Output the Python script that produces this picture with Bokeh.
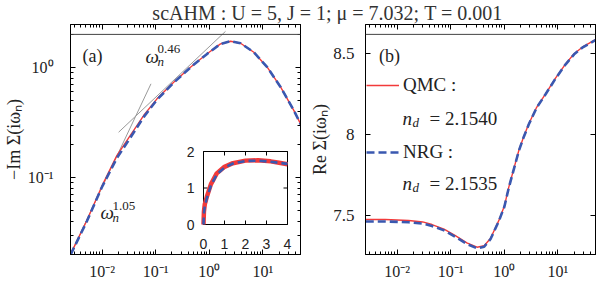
import numpy as np
from bokeh.plotting import figure
from bokeh.models import (Range1d, LogAxis, LinearAxis, FixedTicker, Span, Label,
                          Legend, LegendItem, LinearScale)
from bokeh.layouts import column, row
from bokeh.embed import file_html
from bokeh.resources import INLINE

# ---------------- data ----------------
title_text = "scAHM : U = 5, J = 1; μ = 7.032; T = 0.001"

# panel (a): -Im Sigma(i w_n), log-log
w_im = [0.00257, 0.00519, 0.00989, 0.0188, 0.0336, 0.0594, 0.1054, 0.216, 0.444,
        0.908, 1.614, 2.483, 3.82, 6.76, 12.0, 21.4, 37.8, 51.9]
im_qmc = [0.0200, 0.0407, 0.0834, 0.158, 0.241, 0.366, 0.519, 0.735, 1.007,
          1.334, 1.641, 1.734, 1.663, 1.377, 1.007, 0.662, 0.406, 0.297]
im_nrg = [0.0198, 0.0400, 0.0815, 0.150, 0.230, 0.354, 0.509, 0.728, 1.002,
          1.330, 1.638, 1.732, 1.662, 1.377, 1.007, 0.662, 0.406, 0.297]

# power-law guide lines (end points)
fit105_w = [0.00257, 0.0815]
fit105_y = [0.0200, 0.711]
fit046_w = [0.0203, 2.0]
fit046_y = [0.258, 2.13]

# inset of panel (a), linear axes
inset_w = [0.0, 0.02, 0.06, 0.16, 0.35, 0.63, 1.0, 1.4, 2.0, 2.6, 3.2, 3.6, 4.0]
inset_qmc = [0.0, 0.35, 0.55, 0.76, 1.10, 1.40, 1.58, 1.68, 1.75, 1.76, 1.73, 1.69, 1.65]
inset_nrg = [0.0, 0.30, 0.50, 0.72, 1.06, 1.37, 1.56, 1.67, 1.74, 1.75, 1.72, 1.69, 1.66]
inset_xlim = [0, 4]
inset_ylim = [0, 2]
inset_xticks = [0, 1, 2, 3, 4]
inset_yticks = [0, 1, 2]

# panel (b): Re Sigma(i w_n)
w_re = [0.0026, 0.006, 0.0164, 0.03, 0.0447, 0.075, 0.122, 0.2, 0.309, 0.42, 0.55,
        0.787, 1.0, 1.21, 1.5, 1.86, 2.3, 2.86, 4.0, 5.87, 9.0, 13.9, 20.0, 28.4, 50.0]
re_qmc = [7.477, 7.477, 7.471, 7.462, 7.446, 7.418, 7.378, 7.333, 7.306, 7.315, 7.36,
          7.47, 7.56, 7.677, 7.79, 7.903, 7.99, 8.068, 8.17, 8.253, 8.35, 8.438, 8.50, 8.541, 8.587]
re_nrg = [7.465, 7.465, 7.46, 7.452, 7.437, 7.41, 7.37, 7.326, 7.299, 7.309, 7.355,
          7.466, 7.556, 7.673, 7.787, 7.9, 7.987, 8.065, 8.167, 8.25, 8.347, 8.435, 8.497, 8.538, 8.585]

x_ticks = [0.01, 0.1, 1, 10]
x_tick_labels = ["10⁻²", "10⁻¹", "10⁰", "10¹"]
im_ticks = [0.1, 1]
im_tick_labels = ["10⁻¹", "10⁰"]
re_ticks = [7.5, 8, 8.5]
re_tick_labels = ["7.5", "8", "8.5"]

ylabel_a = "−Im Σ(iωₙ)"
ylabel_b = "Re Σ(iωₙ)"
legend_labels = ["QMC :", "NRG :"]
nd_values = ["= 2.1540", "= 2.1535"]

# ---------------- style ----------------
SERIF = "Liberation Serif"
SANS = "Liberation Sans"
TXT = "#222222"
RED = "#f23a3a"
BLUE = "#3a58b0"
GREY = "#9a9a9a"

log_minor = [m * 10.0 ** e for e in (-3, -2, -1, 0, 1) for m in range(2, 10)]


def style_axis(ax, labels=True, size="16px", standoff=8):
    ax.major_tick_in = 5
    ax.major_tick_out = 0
    ax.minor_tick_in = 3
    ax.minor_tick_out = 0
    ax.axis_line_color = "black"
    ax.major_tick_line_color = "black"
    ax.minor_tick_line_color = "black"
    if labels:
        ax.major_label_text_font = SERIF
        ax.major_label_text_font_size = size
        ax.major_label_text_color = TXT
        ax.major_label_standoff = standoff
    else:
        ax.major_label_text_font_size = "1px"
        ax.major_label_text_alpha = 0
        ax.major_label_standoff = 0


def style_ylabel(ax, text, standoff):
    ax.axis_label = text
    ax.axis_label_text_font = SERIF
    ax.axis_label_text_font_size = "18px"
    ax.axis_label_text_font_style = "normal"
    ax.axis_label_text_color = TXT
    ax.axis_label_standoff = standoff


def base_fig(x_range, y_range, y_type, border_left, border_right):
    p = figure(frame_width=230, frame_height=230,
               x_axis_type="log", y_axis_type=y_type,
               x_range=x_range, y_range=y_range,
               output_backend="svg", toolbar_location=None,
               min_border_left=border_left, min_border_right=border_right,
               min_border_top=0, min_border_bottom=34,
               background_fill_color="white", border_fill_color="white")
    p.grid.visible = False
    p.outline_line_color = "black"
    p.outline_line_width = 1
    return p


def lab(p, text, x, y, size="18px", style="normal", align="left"):
    p.add_layout(Label(x=x, y=y, x_units="screen", y_units="screen", text=text,
                       text_font=SERIF, text_font_size=size, text_font_style=style,
                       text_color=TXT, text_align=align, text_baseline="middle"))


xrange_log = (10 ** -2.59, 10 ** 1.70)

# ---------------- panel (a) ----------------
pa = base_fig(Range1d(*xrange_log), Range1d(10 ** -1.70, 10 ** 0.391), "log", 67, 3)
xt = FixedTicker(ticks=x_ticks, minor_ticks=log_minor)
yt = FixedTicker(ticks=im_ticks, minor_ticks=log_minor)
pa.xaxis.ticker = xt
pa.yaxis.ticker = yt
pa.xaxis.major_label_overrides = dict(zip(x_ticks, x_tick_labels))
pa.yaxis.major_label_overrides = dict(zip(im_ticks, im_tick_labels))
style_axis(pa.xaxis[0])
style_axis(pa.yaxis[0], standoff=17)
style_ylabel(pa.yaxis[0], ylabel_a, 1)
top_a = LogAxis(ticker=xt)
style_axis(top_a, labels=False)
pa.add_layout(top_a, "above")
right_a = LogAxis(ticker=yt)
style_axis(right_a, labels=False)
pa.add_layout(right_a, "right")

pa.add_layout(Span(location=2.0, dimension="width", line_color="#444444", line_width=1))

pa.line(fit105_w, fit105_y, line_color=GREY, line_width=1)
pa.line(fit046_w, fit046_y, line_color=GREY, line_width=1)
pa.line(w_im, im_qmc, line_color=RED, line_width=1.4)
pa.line(w_im, im_nrg, line_color=BLUE, line_width=2.6, line_dash="8 4")

# inset drawn with its own linear scales inside panel (a)
pa.extra_x_ranges = {"ix": Range1d(-133 / 21, -133 / 21 + 230 / 21)}
pa.extra_y_ranges = {"iy": Range1d(-30 / 36.5, -30 / 36.5 + 230 / 36.5)}
pa.extra_x_scales = {"ix": LinearScale()}
pa.extra_y_scales = {"iy": LinearScale()}
ins = dict(x_range_name="ix", y_range_name="iy")
pa.quad(left=inset_xlim[0], right=inset_xlim[1], bottom=inset_ylim[0], top=inset_ylim[1],
        fill_color="white", line_color="black", line_width=1, **ins)
pa.ray(x=inset_xticks, y=[inset_ylim[0]] * len(inset_xticks), length=4, length_units="screen",
       angle=np.pi / 2, line_color="black", line_width=1, **ins)
pa.ray(x=inset_xticks, y=[inset_ylim[1]] * len(inset_xticks), length=4, length_units="screen",
       angle=-np.pi / 2, line_color="black", line_width=1, **ins)
pa.ray(x=[inset_xlim[0]] * len(inset_yticks), y=inset_yticks, length=4, length_units="screen",
       angle=0, line_color="black", line_width=1, **ins)
pa.ray(x=[inset_xlim[1]] * len(inset_yticks), y=inset_yticks, length=4, length_units="screen",
       angle=np.pi, line_color="black", line_width=1, **ins)
pa.line(inset_w, inset_qmc, line_color=RED, line_width=4.5, **ins)
pa.line(inset_w, inset_nrg, line_color=BLUE, line_width=2.6, line_dash="7 4", **ins)
pa.text(x=inset_xticks, y=[inset_ylim[0]] * len(inset_xticks), text=[str(t) for t in inset_xticks],
        y_offset=19, text_align="center", text_baseline="middle", text_font_size="14px",
        text_color=TXT, text_font={"value": SANS}, **ins)
pa.text(x=[inset_xlim[0]] * len(inset_yticks), y=inset_yticks, text=[str(t) for t in inset_yticks],
        x_offset=-9, text_align="right", text_baseline="middle", text_font_size="14px",
        text_color=TXT, text_font={"value": SANS}, **ins)

lab(pa, "(a)", 22, 199, align="center")
lab(pa, "ω", 75, 198, size="19px", style="italic")
lab(pa, "0.46", 87, 206, size="13px")
lab(pa, "n", 87, 193, size="13px", style="italic")
lab(pa, "ω", 30, 42, size="19px", style="italic")
lab(pa, "1.05", 42, 49, size="13px")
lab(pa, "n", 42, 37, size="13px", style="italic")

# ---------------- panel (b) ----------------
pb = base_fig(Range1d(*xrange_log), Range1d(7.261, 8.681), "linear", 62, 1)
yt2 = FixedTicker(ticks=re_ticks, minor_ticks=[])
pb.xaxis.ticker = xt
pb.yaxis.ticker = yt2
pb.xaxis.major_label_overrides = dict(zip(x_ticks, x_tick_labels))
pb.yaxis.major_label_overrides = dict(zip(re_ticks, re_tick_labels))
style_axis(pb.xaxis[0])
style_axis(pb.yaxis[0], size="17px", standoff=11)
style_ylabel(pb.yaxis[0], ylabel_b, 0)
top_b = LogAxis(ticker=xt)
style_axis(top_b, labels=False)
pb.add_layout(top_b, "above")
right_b = LinearAxis(ticker=yt2)
style_axis(right_b, labels=False)
pb.add_layout(right_b, "right")

pb.add_layout(Span(location=8.62, dimension="width", line_color="#444444", line_width=1))

r_q = pb.line(w_re, re_qmc, line_color=RED, line_width=1.4)
r_n = pb.line(w_re, re_nrg, line_color=BLUE, line_width=2.6, line_dash="8 4")

leg = Legend(items=[LegendItem(label=legend_labels[0], renderers=[r_q]),
                    LegendItem(label=legend_labels[1], renderers=[r_n])],
             location=(1, 91), orientation="vertical",
             border_line_color=None, background_fill_alpha=0,
             padding=0, margin=0, spacing=45, label_height=20, glyph_height=20,
             glyph_width=33, label_standoff=4,
             label_text_font=SERIF, label_text_font_size="19px", label_text_color=TXT)
pb.add_layout(leg)

lab(pb, "(b)", 24, 199, align="center")
for yy, nd in zip([136, 71], nd_values):
    lab(pb, "n", 37, yy, size="19px", style="italic")
    lab(pb, "d", 47, yy - 4, size="13px", style="italic")
    lab(pb, nd, 64, yy, size="19px")

# ---------------- title ----------------
pt = figure(width=593, height=24, min_border=0, output_backend="svg",
            toolbar_location=None, x_range=Range1d(0, 1), y_range=Range1d(0, 1))
pt.axis.visible = False
pt.grid.visible = False
pt.outline_line_color = None
pt.add_layout(Label(x=327, y=12, x_units="screen", y_units="screen", text=title_text,
                    text_font=SERIF, text_font_size="20px", text_color="#333333",
                    text_align="center", text_baseline="middle"))

layout = column(pt, row(pa, pb))
open("out.html", "w").write(file_html(layout, INLINE))
